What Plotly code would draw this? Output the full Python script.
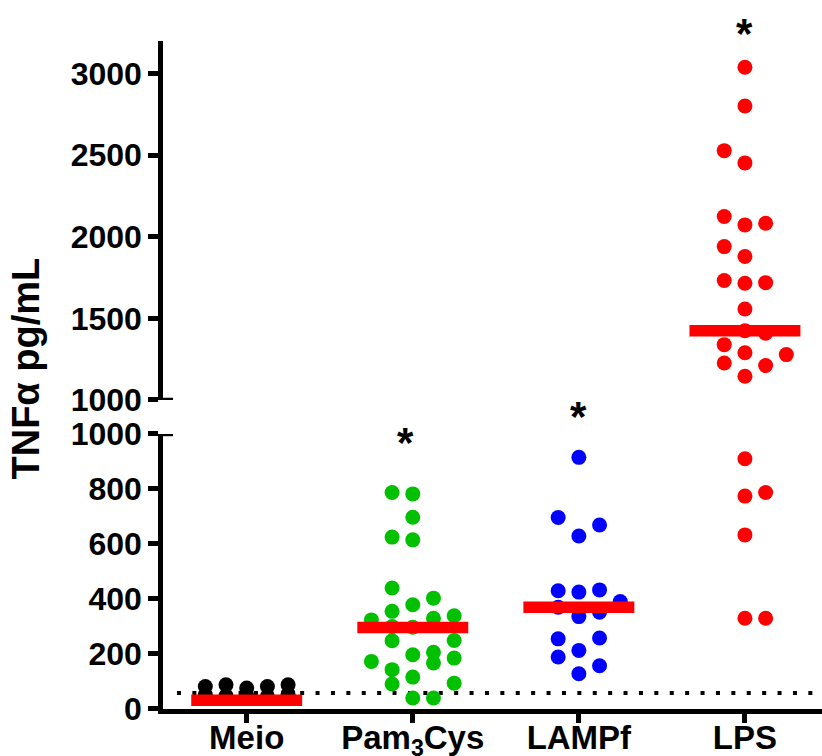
import plotly.graph_objects as go

# ---------------- data ----------------
categories = ["Meio", "Pam<sub>3</sub>Cys", "LAMPf", "LPS"]

# value (pg/mL) and swarm column slot of each dot
meio_values = [82, 88, 76, 82, 88, 52, 48, 50, 46, 54, 44]
meio_cols   = [-2, -1, 0, 1, 2, -2, -1, 0, 1, 2, 0]

pam_values = [787, 782, 697, 625, 615, 440, 355, 379, 403, 324, 300, 297, 330, 339,
              249, 248, 197, 206, 167, 185, 173, 143, 91, 116, 94, 40, 40]
pam_cols   = [-1, 0, 0, -1, 0, -1, -1, 0, 1, -2, -1, 0, 1, 2,
              2, -1, 0, 1, 1, 2, -2, -1, -1, 0, 2, 0, 1]

lamp_values = [915, 696, 669, 629, 430, 425, 433, 391, 370, 336, 352, 255, 258,
               213, 189, 157, 128]
lamp_cols   = [0, -1, 1, 0, -1, 0, 1, 2, -1, 0, 1, -1, 1, 0, -1, 1, 0]

lps_values = [3039, 2802, 2528, 2453, 2124, 2073, 2083, 1940, 1879, 1732, 1715, 1719,
              1558, 1425, 1409, 1339, 1289, 1278, 1227, 1211, 1145,
              910, 774, 787, 633, 330, 330]
lps_cols   = [0, 0, -1, 0, -1, 0, 1, -1, 0, -1, 0, 1,
              0, 0, 1, -1, 0, 2, -1, 1, 0,
              0, 0, 1, 0, 0, 1]

medians = [32, 296, 370, 1425]
detection_limit = 58
break_value = 1000

group_values = [meio_values, pam_values, lamp_values, lps_values]
group_cols = [meio_cols, pam_cols, lamp_cols, lps_cols]
group_colors = ["#000000", "#00C000", "#0000FF", "#FF0000"]

# ---------------- layout geometry ----------------
W, H = 822, 756
ml, mr, mt, mb = 163, 0, 40.7, 46.7
plot_h = H - mt - mb
plot_w = W - ml - mr
y_axis_px = H - mb                      # pixel row of y = 0
low_top_px, up_bot_px = 434.0, 400.0
low_dom = [0, (y_axis_px - low_top_px) / plot_h]
up_dom = [(y_axis_px - up_bot_px) / plot_h, 1]

col_step = 0.1246
half_bar = 0.334

def py2paper(py):
    return (y_axis_px - py) / plot_h

fig = go.Figure()

# detection limit dotted line
fig.add_trace(go.Scatter(x=[-0.42, 3.464], y=[detection_limit, detection_limit],
                         mode="lines", line=dict(color="black", width=4, dash="4px,11.4px"),
                         hoverinfo="skip", showlegend=False, xaxis="x", yaxis="y"))

for i, (vals, cols, colr) in enumerate(zip(group_values, group_cols, group_colors)):
    lo_x = [i + c * col_step for v, c in zip(vals, cols) if v < break_value]
    lo_y = [v for v in vals if v < break_value]
    hi_x = [i + c * col_step for v, c in zip(vals, cols) if v >= break_value]
    hi_y = [v for v in vals if v >= break_value]
    if lo_y:
        fig.add_trace(go.Scatter(x=lo_x, y=lo_y, mode="markers",
                                 marker=dict(size=15, color=colr, line=dict(width=0)),
                                 showlegend=False, xaxis="x", yaxis="y"))
    if hi_y:
        fig.add_trace(go.Scatter(x=hi_x, y=hi_y, mode="markers",
                                 marker=dict(size=15, color=colr, line=dict(width=0)),
                                 showlegend=False, xaxis="x", yaxis="y2"))

for i, m in enumerate(medians):
    fig.add_trace(go.Scatter(x=[i - half_bar, i + half_bar], y=[m, m], mode="lines",
                             line=dict(color="#FF0000", width=11.5),
                             showlegend=False, xaxis="x",
                             yaxis="y2" if m >= break_value else "y"))

axis_font = dict(family="Liberation Sans, Arial", size=32, color="black", weight="bold")
cat_font = dict(family="Liberation Sans, Arial", size=33, color="black", weight="bold")

fig.update_layout(
    width=W, height=H,
    margin=dict(l=ml, r=mr, t=mt, b=mb, autoexpand=False),
    paper_bgcolor="white", plot_bgcolor="white",
    xaxis=dict(domain=[0, 1], range=[-0.504, 3.464], anchor="y",
               tickmode="array", tickvals=[0, 1, 2, 3], ticktext=categories,
               ticks="outside", ticklen=9, tickwidth=4.5, tickcolor="black",
               ticklabelstandoff=-14,
               showline=True, linewidth=5, linecolor="black",
               showgrid=False, zeroline=False, tickfont=cat_font),
    yaxis=dict(domain=low_dom, range=[0, 1000], anchor="x",
               tickmode="array", tickvals=[0, 200, 400, 600, 800, 1000],
               ticks="outside", ticklen=10, tickwidth=4.5, tickcolor="black",
               showline=True, linewidth=4.5, linecolor="black",
               showgrid=False, zeroline=False, tickfont=axis_font),
    yaxis2=dict(domain=up_dom, range=[1000, 3200], anchor="x",
                tickmode="array", tickvals=[1000, 1500, 2000, 2500, 3000],
                ticks="outside", ticklen=10, tickwidth=4.5, tickcolor="black",
                showline=True, linewidth=4.5, linecolor="black",
                showgrid=False, zeroline=False, tickfont=axis_font),
)

# axis-break caps
for yr in ["y", "y2"]:
    fig.add_shape(type="line", xref="paper", yref=yr, x0=0, x1=10 / plot_w,
                  y0=break_value, y1=break_value, line=dict(color="black", width=4.5))

# y title
fig.add_annotation(text="TNFα pg/mL", textangle=-90, xref="paper", yref="paper",
                   x=(26.5 - ml) / plot_w, y=py2paper(369), xanchor="center", yanchor="middle",
                   showarrow=False,
                   font=dict(family="Liberation Sans, Arial", size=38, color="black", weight="bold"))

# significance asterisks
star_x = [1 - 0.044, 2, 3]
star_py = [443, 417, 33]
for sx, spy in zip(star_x, star_py):
    fig.add_annotation(text="*", xref="x", yref="paper", x=sx, y=py2paper(spy),
                       xanchor="center", yanchor="middle", showarrow=False,
                       font=dict(family="Liberation Sans, Arial", size=42, color="black", weight="bold"))

fig.write_html("out.html")
